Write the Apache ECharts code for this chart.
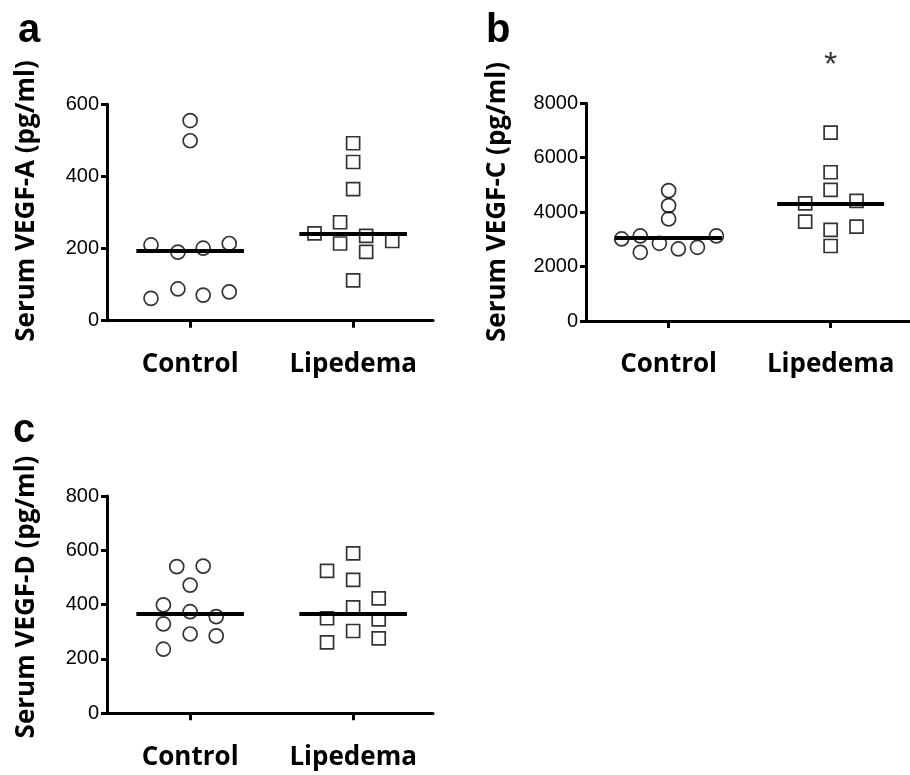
<!DOCTYPE html>
<html>
<head>
<meta charset="utf-8">
<script src="https://cdn.jsdelivr.net/npm/echarts@6/dist/echarts.min.js"></script>
<style>
  html, body { margin: 0; padding: 0; background: #fff; }
  #chart { width: 910px; height: 775px; }
</style>
</head>
<body>
<div id="chart"></div>
<script>
// ---------- data ----------
const categories = ['Control', 'Lipedema'];

// Panel a: Serum VEGF-A (pg/ml)
const aControl   = [555, 499, 210, 190, 201, 214, 62, 88, 71, 80];
const aControlX  = [0, 0, -0.24, -0.075, 0.08, 0.24, -0.24, -0.075, 0.08, 0.24];
const aLipedema  = [492, 440, 365, 273, 242, 214, 235, 191, 221, 112];
const aLipedemaX = [0, 0, 0, -0.08, -0.237, -0.08, 0.08, 0.08, 0.24, 0];
const aMedians   = [195, 240];
const aTicks     = [0, 200, 400, 600];

// Panel b: Serum VEGF-C (pg/ml)
const bControl   = [4792, 4240, 3750, 3015, 3125, 3125, 2525, 2855, 2647, 2708];
const bControlX  = [0, 0, 0, -0.29, -0.175, 0.295, -0.175, -0.057, 0.06, 0.178];
const bLipedema  = [6924, 5466, 4816, 4326, 4412, 3652, 3346, 3468, 2757];
const bLipedemaX = [0, 0, 0, -0.157, 0.16, -0.157, 0, 0.16, 0];
const bMedians   = [3076, 4326];
const bTicks     = [0, 2000, 4000, 6000, 8000];
const bSignif    = [[2, 9400, '*']];

// Panel c: Serum VEGF-D (pg/ml)
const cControl   = [540, 542, 472, 399, 374, 356, 329, 292, 285, 236];
const cControlX  = [-0.082, 0.08, 0, -0.164, 0, 0.16, -0.164, 0, 0.16, -0.164];
const cLipedema  = [589, 524, 491, 423, 390, 350, 346, 303, 276, 261];
const cLipedemaX = [0, -0.16, 0, 0.157, 0, -0.16, 0.157, 0, 0.157, -0.16];
const cMedians   = [366, 368];
const cTicks     = [0, 200, 400, 600, 800];

const panelLetters = ['a', 'b', 'c'];
const yTitles = ['Serum VEGF-A (pg/ml)', 'Serum VEGF-C (pg/ml)', 'Serum VEGF-D (pg/ml)'];

// ---------- styling / layout ----------
const LABEL_FONT = '"Open Sans", "Noto Sans", sans-serif';
const TICK_FONT = '"Liberation Sans", Arial, sans-serif';
const HALF = 0.33;

const grids = [
  { left: 107, top: 104.3, width: 326, height: 216.4 },
  { left: 586, top: 103.3, width: 326, height: 217.7 },
  { left: 107, top: 496,   width: 326, height: 217.3 }
];

function xAxisFor(i) {
  return {
    type: 'value', gridIndex: i, min: 0.49, max: 2.49,
    axisLine: { show: true, onZero: false, lineStyle: { color: '#000', width: 3 } },
    axisTick: { show: true, customValues: [1, 2], length: 7, lineStyle: { color: '#000', width: 3 } },
    axisLabel: {
      show: true, customValues: [1, 2], margin: 31,
      formatter: v => categories[Math.round(v) - 1],
      fontFamily: LABEL_FONT, fontWeight: 'bold', fontSize: 26, color: '#000'
    },
    splitLine: { show: false }
  };
}
function yAxisFor(i, ticks) {
  return {
    type: 'value', gridIndex: i, min: ticks[0], max: ticks[ticks.length - 1],
    interval: ticks[1] - ticks[0],
    axisLine: { show: true, onZero: false, lineStyle: { color: '#000', width: 3 } },
    axisTick: { show: true, length: 6, lineStyle: { color: '#000', width: 3 } },
    axisLabel: {
      margin: 8, fontFamily: TICK_FONT, fontSize: 20, color: '#000',
      formatter: v => String(v)
    },
    splitLine: { show: false }
  };
}
function pts(vals, offs, cat) {
  return vals.map((v, k) => [cat + offs[k], v]);
}
function scatter(i, vals, offs, cat, symbol, size) {
  return {
    type: 'scatter', xAxisIndex: i, yAxisIndex: i,
    symbol: symbol, symbolSize: size,
    data: pts(vals, offs, cat),
    itemStyle: { color: 'rgba(255,255,255,0)', borderColor: '#000', borderWidth: 1.7 },
    z: 3,
    silent: true
  };
}
function medianSeries(i, meds) {
  return {
    type: 'scatter', xAxisIndex: i, yAxisIndex: i, data: [], silent: true,
    markLine: {
      silent: true, symbol: 'none', label: { show: false },
      lineStyle: { color: '#000', width: 4, type: 'solid' },
      z: 5,
      data: meds.map((m, k) => [{ coord: [k + 1 - HALF, m] }, { coord: [k + 1 + HALF, m] }])
    }
  };
}

const series = [
  scatter(0, aControl, aControlX, 1, 'circle', 14),
  scatter(0, aLipedema, aLipedemaX, 2, 'rect', 13),
  medianSeries(0, aMedians),
  scatter(1, bControl, bControlX, 1, 'circle', 14),
  scatter(1, bLipedema, bLipedemaX, 2, 'rect', 13),
  medianSeries(1, bMedians),
  scatter(2, cControl, cControlX, 1, 'circle', 14),
  scatter(2, cLipedema, cLipedemaX, 2, 'rect', 13),
  medianSeries(2, cMedians),
  {
    type: 'scatter', xAxisIndex: 1, yAxisIndex: 1, clip: false, silent: true,
    symbol: 'circle', symbolSize: 1, itemStyle: { color: 'rgba(0,0,0,0)' },
    data: bSignif.map(d => ({ value: [d[0], d[1]], name: d[2] })),
    label: {
      show: true, position: 'inside', formatter: p => p.name,
      fontFamily: TICK_FONT, fontSize: 34, color: '#000'
    }
  }
];

const titlePos = [[26.5, 201], [498, 202], [26.5, 597]];
const letterPos = [[18, 51], [486, 51], [13, 451]];
const graphic = [];
yTitles.forEach((t, i) => {
  graphic.push({
    type: 'text', x: titlePos[i][0], y: titlePos[i][1], rotation: Math.PI / 2,
    style: {
      text: t, fill: '#000', font: 'bold 26px ' + LABEL_FONT,
      textAlign: 'center', textVerticalAlign: 'middle'
    }
  });
});
panelLetters.forEach((t, i) => {
  graphic.push({
    type: 'text', x: letterPos[i][0], y: letterPos[i][1],
    style: {
      text: t, fill: '#000', font: 'bold 40px ' + TICK_FONT,
      textAlign: 'left', textVerticalAlign: 'bottom'
    }
  });
});

const chart = echarts.init(document.getElementById('chart'), null, { renderer: 'canvas' });
chart.setOption({
  animation: false,
  backgroundColor: '#fff',
  grid: grids,
  xAxis: [xAxisFor(0), xAxisFor(1), xAxisFor(2)],
  yAxis: [yAxisFor(0, aTicks), yAxisFor(1, bTicks), yAxisFor(2, cTicks)],
  series: series,
  graphic: graphic
});
</script>
</body>
</html>
